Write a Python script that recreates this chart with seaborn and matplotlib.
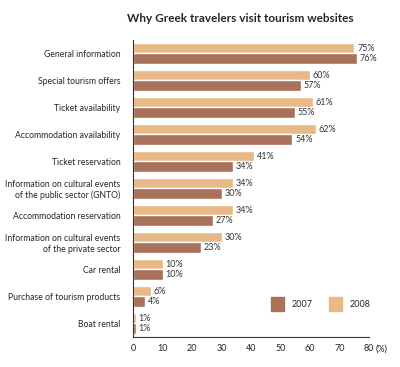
import matplotlib
matplotlib.use("Agg")
import matplotlib.pyplot as plt
import matplotlib.patches as mpatches
import seaborn as sns
import pandas as pd

# data
categories = ["General information", "Special tourism offers", "Ticket availability",
              "Accommodation availability", "Ticket reservation",
              "Information on cultural events\nof the public sector (GNTO)",
              "Accommodation reservation",
              "Information on cultural events\nof the private sector",
              "Car rental", "Purchase of tourism products", "Boat rental"]
vals_2008 = [75, 60, 61, 62, 41, 34, 34, 30, 10, 6, 1]
vals_2007 = [76, 57, 55, 54, 34, 30, 27, 23, 10, 4, 1]
years = ["2008", "2007"]
colors = {"2008": "#E8B886", "2007": "#A8725A"}

df = pd.DataFrame({
    "cat": categories * 2,
    "val": vals_2008 + vals_2007,
    "year": ["2008"] * len(categories) + ["2007"] * len(categories),
})

sns.set_style("white")
plt.rcParams["font.family"] = ["Lato", "DejaVu Sans"]

fig = plt.figure(figsize=(4, 3.67), dpi=100)
ax = fig.add_axes([0.3325, 0.082, 0.59, 0.809])

sns.barplot(data=df, y="cat", x="val", hue="year", hue_order=years,
            palette=colors, orient="h", width=0.8, ax=ax, legend=False,
            saturation=1)

for cont in ax.containers:
    ax.bar_label(cont, fmt="%d%%", padding=2, fontsize=6.5, color="#333333")

ax.set_xlim(0, 80)
ax.set_xticks(range(0, 81, 10))
ax.set_xlabel("")
ax.set_ylabel("")
ax.tick_params(axis="x", direction="in", length=5, width=0.8, labelsize=6.5,
               color="#333333", pad=5)
ax.tick_params(axis="y", direction="in", length=4, width=0.8, labelsize=6.2,
               color="#5a3a2a", pad=9)
ax.text(82.2, -0.0275, "(%)", transform=ax.get_xaxis_transform(),
        ha="left", va="top", fontsize=6.5, color="#262626")
for s in ["top", "right"]:
    ax.spines[s].set_visible(False)
for s in ["left", "bottom"]:
    ax.spines[s].set_color("#333333")
    ax.spines[s].set_linewidth(0.8)

handles = [mpatches.Patch(color=colors["2007"], label="2007"),
           mpatches.Patch(color=colors["2008"], label="2008")]
ax.legend(handles=handles, ncol=2, frameon=False, fontsize=6.5,
          loc="center right", bbox_to_anchor=(1.04, 0.11),
          handlelength=1.5, handleheight=2.0, columnspacing=1.8)

fig.suptitle("Why Greek travelers visit tourism websites", x=0.6, y=0.965,
             fontsize=8.5, fontweight="bold")

fig.savefig("out.png", dpi=100, facecolor="white")
